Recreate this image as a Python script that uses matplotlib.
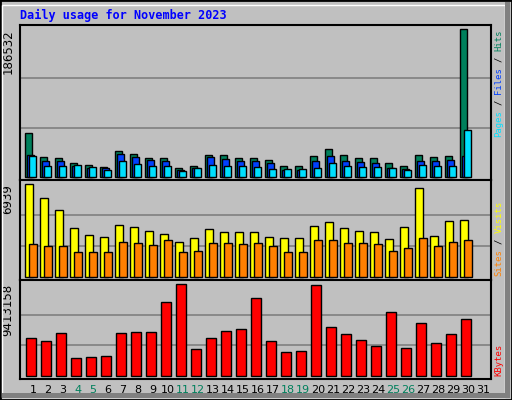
import matplotlib.pyplot as plt
from matplotlib.patches import Rectangle

days = list(range(1, 32))
weekend = [4, 5, 11, 12, 18, 19, 25, 26]

hits = [55400, 25300, 23200, 16900, 14800, 12700, 32800, 28500, 24300, 23200,
        10900, 14100, 27500, 27500, 24300, 24300, 21500, 14100, 13100, 26400,
        35000, 27500, 24300, 23200, 16900, 13700, 27500, 25300, 26400, 186532]
files = [27500, 19400, 19400, 14100, 11600, 10900, 28900, 24600, 21500, 20400,
         8800, 10900, 24600, 22500, 20400, 19400, 17200, 8800, 8800, 20400,
         26800, 20400, 18300, 17200, 10900, 9800, 19400, 19400, 21500, 25700]
pages = [26400, 14100, 14100, 15100, 12000, 8800, 20400, 16200, 13100, 13100,
         7700, 10900, 15100, 13100, 13100, 12000, 9800, 9800, 9800, 10900,
         17200, 14100, 12000, 12000, 10900, 8800, 15100, 13100, 14100, 58800]
visits = [6939, 5887, 4985, 3632, 3106, 2955, 3857, 3707, 3406, 3181,
          2580, 2880, 3557, 3331, 3331, 3331, 2955, 2880, 2880, 3782,
          4083, 3632, 3406, 3331, 2805, 3707, 6638, 3030, 4158, 4233]
sites = [2430, 2280, 2280, 1829, 1829, 1829, 2580, 2505, 2355, 2730,
         1829, 1904, 2505, 2505, 2430, 2505, 2280, 1829, 1829, 2730,
         2730, 2505, 2505, 2430, 1904, 2129, 2880, 2280, 2580, 2730]
kbytes = [3836000, 3527000, 4351000, 1774000, 1877000, 1980000, 4351000, 4454000, 4454000, 7546000,
          9413158, 2727000, 3836000, 4557000, 4763000, 7958000, 3527000, 2395000, 2498000, 9310000,
          4970000, 4248000, 3630000, 3012000, 6515000, 2808000, 5382000, 3321000, 4248000, 5794000]

bg = '#C0C0C0'
W, H = 512, 400
fig = plt.figure(figsize=(5.12, 4.0), dpi=100, facecolor=bg)

# frame of the whole picture
fig.patches.append(Rectangle((0, 0), 1, 1, transform=fig.transFigure, fill=False, ec='black', lw=2))
fig.patches.append(Rectangle((2/W, 3/H), 1 - 9/W, 1 - 8/H, transform=fig.transFigure, fill=False, ec='white', lw=1))
fig.patches.append(Rectangle((505/W, 2/H), 5/W, 1 - 4/H, transform=fig.transFigure, fc='#808080', ec='none'))
fig.patches.append(Rectangle((2/W, 2/H), 1 - 4/W, 5/H, transform=fig.transFigure, fc='#808080', ec='none'))

fig.text(20/W, 1 - 15/H, 'Daily usage for November 2023', color='#0000FF', fontsize=8.5,
         family='DejaVu Sans Mono', weight='bold', va='center')

def panel(top, bottom):
    ax = fig.add_axes([20/W, 1 - bottom/H, 471/W, (bottom - top)/H])
    ax.set_facecolor(bg)
    ax.set_xlim(1 - 13/15, 1 + 458/15)
    for s in ax.spines.values():
        s.set_color('black')
        s.set_linewidth(1.5)
    ax.tick_params(length=0)
    ax.set_yticks([])
    ax.set_xticks([])
    return ax

def bars(ax, vals, off, w, color):
    x = [d + off/15 for d in days[:len(vals)]]
    ax.bar(x, vals, width=w/15, align='edge', color=color, edgecolor='black', linewidth=1, zorder=3)

def grid(ax, vmax, px_per, label):
    ax.set_ylim(-3.3*px_per, vmax + 4.3*px_per)
    for f in (1/3, 2/3):
        ax.axhline(vmax*f, color='#808080', lw=1.2, zorder=1)
    ax.text(-12/471, 1 - 4/ax.bbox.height, label, transform=ax.transAxes, rotation=90,
            ha='center', va='top', fontsize=8.5)

ax1 = panel(25, 180)
grid(ax1, 186532, 1260, '186532')
bars(ax1, hits, -8, 7, '#00805C')
bars(ax1, files, -6, 7, '#0040FF')
bars(ax1, pages, -4, 7, '#00E0FF')

ax2 = panel(180, 280)
grid(ax2, 6939, 75.2, '6939')
bars(ax2, visits, -8, 8, '#FFFF00')
bars(ax2, sites, -4, 8, '#FF8000')

ax3 = panel(280, 379)
grid(ax3, 9413158, 103100, '9413158')
bars(ax3, kbytes, -7, 10, '#FF0000')

ax3.set_xticks(days)
ax3.set_xticklabels([str(d) for d in days], fontsize=8)
ax3.tick_params(axis='x', length=0, pad=4)
for t, d in zip(ax3.get_xticklabels(), days):
    t.set_color('#00805C' if d in weekend else 'black')

# right-hand legends, read bottom to top; pieces placed by character index
def side(y0, parts):
    step = 5.35
    i = 0
    for txt, c in parts:
        fig.text(499/W, 1 - (y0 - i*step)/H, txt, rotation=90, color=c, fontsize=6.4,
                 family='DejaVu Sans Mono', ha='center', va='bottom')
        i += len(txt) + 1

side(137, [('Pages', '#00E0FF'), ('/', 'black'), ('Files', '#0040FF'),
           ('/', 'black'), ('Hits', '#00805C')])
side(276, [('Sites', '#FF8000'), ('/', 'black'), ('Visits', '#FFFF00')])
side(376, [('KBytes', '#FF0000')])

fig.savefig('out.png', dpi=100, facecolor=bg)
